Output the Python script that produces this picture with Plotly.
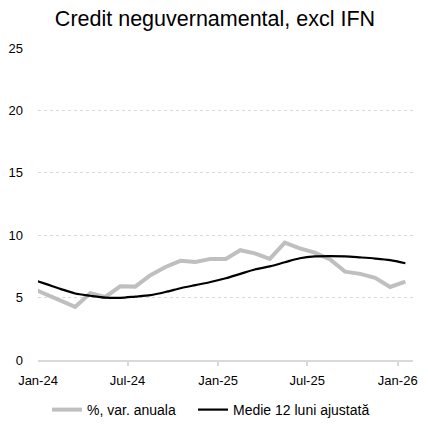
import plotly.graph_objects as go

months = ["2023-12-01", "2024-01-01", "2024-02-01", "2024-03-01", "2024-04-01", "2024-05-01",
          "2024-06-01", "2024-07-01", "2024-08-01", "2024-09-01", "2024-10-01", "2024-11-01",
          "2024-12-01", "2025-01-01", "2025-02-01", "2025-03-01", "2025-04-01", "2025-05-01",
          "2025-06-01", "2025-07-01", "2025-08-01", "2025-09-01", "2025-10-01", "2025-11-01",
          "2025-12-01", "2026-01-01"]

annual_pct = [5.8, 5.3, 4.75, 4.25, 5.35, 5.05, 5.9, 5.88, 6.8, 7.45, 7.95, 7.85,
              8.1, 8.1, 8.8, 8.55, 8.1, 9.4, 8.95, 8.6, 8.05, 7.08, 6.9, 6.58, 5.85, 6.28]

avg_12m = [6.5, 6.1, 5.7, 5.33, 5.15, 5.0, 4.98, 5.08, 5.2, 5.45, 5.75, 6.0,
           6.25, 6.55, 6.9, 7.25, 7.5, 7.83, 8.15, 8.3, 8.32, 8.3, 8.22, 8.13, 8.0, 7.75]

y_ticks = [0, 5, 10, 15, 20, 25]
x_tick_dates = ["2024-01-01", "2024-07-01", "2025-01-01", "2025-07-01", "2026-01-01"]

title_text = "Credit neguvernamental, excl IFN"
name_gray = "%, var. anuala"
name_black = "Medie 12 luni ajustată"

FONT = "Liberation Sans, Arial, sans-serif"
W = H = 420

fig = go.Figure()
fig.add_trace(go.Scatter(
    x=months, y=annual_pct, name=name_gray, mode="lines",
    xperiod="M1", xperiodalignment="middle",
    line=dict(color="#bfbfbf", width=4),
    legend="legend",
))
fig.add_trace(go.Scatter(
    x=months, y=avg_12m, name=name_black, mode="lines",
    xperiod="M1", xperiodalignment="middle",
    line=dict(color="#000000", width=2.2, shape="spline", smoothing=0.8),
    legend="legend2",
))

leg_common = dict(orientation="h", xref="container", xanchor="left",
                  yref="container", yanchor="middle", y=1 - 402 / H,
                  font=dict(family=FONT, size=14, color="#000000"),
                  bgcolor="rgba(0,0,0,0)", borderwidth=0)

fig.update_layout(
    width=W, height=H,
    margin=dict(l=30, r=15, t=40, b=68, autoexpand=False),
    paper_bgcolor="white", plot_bgcolor="white",
    font=dict(family=FONT, size=13, color="#000000"),
    title=dict(text=title_text, x=207 / W, xref="container", xanchor="center",
               y=1 - 10 / H, yref="container", yanchor="middle",
               font=dict(family=FONT, size=21.5, color="#000000")),
    showlegend=True,
    legend=dict(x=39 / W, **leg_common),
    legend2=dict(x=185 / W, **leg_common),
)

fig.update_xaxes(
    type="date",
    range=["2024-01-01", "2026-02-01"],
    tickvals=x_tick_dates,
    tickformat="%b-%y",
    ticklabelmode="period",
    showline=True, linecolor="#d9d9d9", linewidth=1.5,
    ticks="outside", ticklen=4, tickcolor="#d9d9d9", tickwidth=1.5,
    ticklabelstandoff=4,
    showgrid=False, zeroline=False, automargin=False,
    tickfont=dict(family=FONT, size=13, color="#000000"),
)
fig.update_yaxes(
    range=[0, 25],
    tickvals=y_ticks,
    showgrid=True, gridcolor="#d9d9d9", gridwidth=1, griddash="dot",
    zeroline=False, showline=False, ticks="", automargin=False,
    ticklabelstandoff=14,
    tickfont=dict(family=FONT, size=13, color="#000000"),
)

fig.write_html("out.html")
